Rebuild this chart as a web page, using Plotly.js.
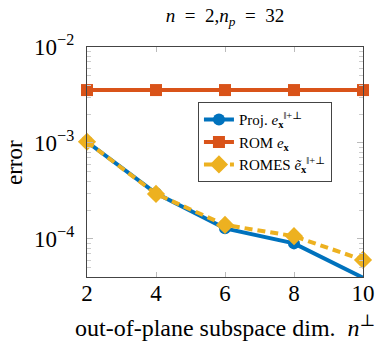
<!DOCTYPE html>
<html>
<head>
<meta charset="utf-8">
<script src="https://cdn.plot.ly/plotly-3.0.1.min.js"></script>
<style>html,body{margin:0;padding:0;background:#fff;}</style>
</head>
<body>
<div id="chart" style="width:386px;height:348px;"></div>
<script>
const dims = [2, 4, 6, 8, 10];
const projErr = [1.03e-3, 2.99e-4, 1.29e-4, 9.0e-5, 3.95e-5];
const romErr = [3.56e-3, 3.56e-3, 3.56e-3, 3.56e-3, 3.56e-3];
const romesErr = [1.03e-3, 2.95e-4, 1.40e-4, 1.07e-4, 6.05e-5];
const yTickVals = [1e-4, 1e-3, 1e-2];
const yTickText = ['10<sup>−4</sup>', '10<sup>−3</sup>', '10<sup>−2</sup>'];
const yMinorVals = [4e-5, 5e-5, 6e-5, 7e-5, 8e-5, 9e-5,
                    2e-4, 3e-4, 4e-4, 5e-4, 6e-4, 7e-4, 8e-4, 9e-4,
                    2e-3, 3e-3, 4e-3, 5e-3, 6e-3, 7e-3, 8e-3, 9e-3];
const xTickVals = [2, 4, 6, 8, 10];
const titleText = '<i>n</i>\u2002=\u20022,<i>n</i><sub><i>p</i></sub>\u2002=\u200232';
const xTitle = 'out-of-plane subspace dim.\u2002<i>n</i><sup>⊥</sup>';
const yTitle = 'error';
const legendNames = [
  'Proj. <i>e</i><sub><b>x</b></sub><sup>‖+⊥</sup>',
  'ROM <i>e</i><sub><b>x</b></sub>',
  'ROMES <i>ẽ</i><sub><b>x</b></sub><sup>‖+⊥</sup>'
];

const serif = '"Liberation Serif", "DejaVu Serif", serif';

const traces = [
  {
    x: dims, y: projErr, type: 'scatter', mode: 'lines+markers',
    name: legendNames[0],
    line: {color: '#0072BD', width: 4},
    marker: {symbol: 'circle', size: 12, color: '#0072BD'},
    cliponaxis: false
  },
  {
    x: dims, y: romErr, type: 'scatter', mode: 'lines+markers',
    name: legendNames[1],
    line: {color: '#D95319', width: 4},
    marker: {symbol: 'square', size: 12, color: '#D95319'},
    cliponaxis: false
  },
  {
    x: dims, y: romesErr, type: 'scatter', mode: 'lines+markers',
    name: legendNames[2],
    line: {color: '#EDB120', width: 4, dash: '8px,5px'},
    marker: {symbol: 'diamond', size: 14, color: '#EDB120'},
    cliponaxis: false
  },
  {
    x: [dims[0]], y: [romErr[0]], yaxis: 'y2', type: 'scatter', mode: 'markers',
    marker: {opacity: 0}, showlegend: false, hoverinfo: 'skip'
  }
];

const layout = {
  width: 386, height: 348,
  margin: {l: 87, r: 23, t: 47, b: 71},
  paper_bgcolor: '#fff', plot_bgcolor: '#fff',
  font: {family: serif, color: '#000', size: 20},
  showlegend: true,
  title: {
    text: titleText,
    font: {family: serif, size: 19, color: '#000'},
    xref: 'paper', x: 0.5, xanchor: 'center',
    yref: 'container', y: 0.957, yanchor: 'middle'
  },
  xaxis: {
    range: [2, 10],
    tickvals: xTickVals,
    ticks: 'inside', ticklen: 5, tickcolor: '#bbb', tickwidth: 1,
    showline: true, linecolor: '#444', linewidth: 1.2, mirror: 'ticks',
    showgrid: false, zeroline: false,
    tickfont: {family: serif, size: 23, color: '#000'},
    ticklabelstandoff: -5
  },
  yaxis: {
    type: 'log',
    range: [-4.396, -2],
    tickvals: yTickVals, ticktext: yTickText,
    ticks: 'inside', ticklen: 6, tickcolor: '#bbb', tickwidth: 1,
    showline: true, linecolor: '#444', linewidth: 1.2, mirror: 'ticks',
    showgrid: false, zeroline: false,
    tickfont: {family: serif, size: 23, color: '#000'},
    ticklabelstandoff: 7
  },
  yaxis2: {
    type: 'log', overlaying: 'y', side: 'left',
    range: [-4.396, -2],
    tickvals: yMinorVals, ticktext: yMinorVals.map(() => ''),
    ticks: 'inside', ticklen: 4, tickcolor: '#ccc', tickwidth: 1,
    showline: false, mirror: 'ticks', showgrid: false, zeroline: false,
    showticklabels: false
  },
  annotations: [
    {
      text: xTitle, xref: 'paper', yref: 'paper',
      x: 0.5, xanchor: 'center', y: -0.215, yanchor: 'middle',
      showarrow: false, font: {family: serif, size: 24, color: '#000'}
    },
    {
      text: yTitle, xref: 'paper', yref: 'paper', textangle: -90,
      x: -0.2645, xanchor: 'center', y: 0.5, yanchor: 'middle',
      showarrow: false, font: {family: serif, size: 23, color: '#000'}
    }
  ],
  legend: {
    x: 0.402, y: 0.76, xanchor: 'left', yanchor: 'top',
    bgcolor: '#fff', bordercolor: '#444', borderwidth: 1,
    font: {family: serif, size: 15, color: '#000'},
    itemwidth: 30, tracegroupgap: 0
  }
};

Plotly.newPlot('chart', traces, layout, {displayModeBar: false, staticPlot: true});
</script>
</body>
</html>
